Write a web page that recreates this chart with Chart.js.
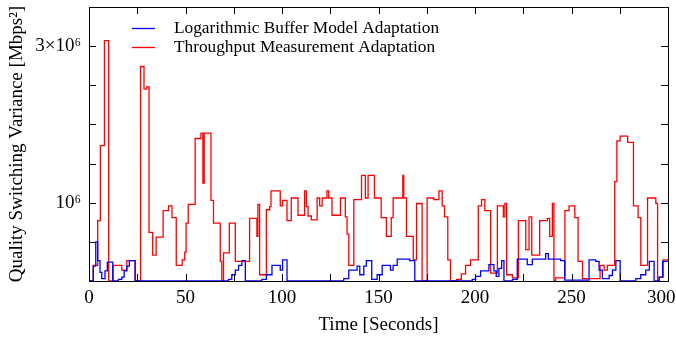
<!DOCTYPE html>
<html>
<head>
<meta charset="utf-8">
<script src="https://cdn.jsdelivr.net/npm/chart.js@4/dist/chart.umd.min.js"></script>
<style>
  html, body { margin: 0; padding: 0; background: #fff; }
  canvas { display: block; }
</style>
</head>
<body>
<canvas id="varianceChart" width="676" height="339"></canvas>
<script>
// values are in units of 10^6 Mbps^2, each holds until the next time
const UNIT = 1e6;

const redTimes = [0, 2.2, 4.5, 5.9, 8.0, 10.2, 12.5, 17.0, 19.6, 23.9, 26.7, 28.5, 29.9, 31.1, 33.0, 34.8,
    38.4, 41.2, 43.0, 45.2, 48.3, 49.6, 50.3, 51.4, 55.0, 58.0, 59.0, 59.7, 63.2, 64.5, 68.0, 68.8, 69.7,
    72.7, 75.8, 83.2, 87.0, 87.5, 88.4, 91.9, 93.6, 94.3, 99.1, 100.3, 102.6, 104.8, 108.3, 111.7, 112.6,
    113.5, 115.2, 118.2, 119.5, 120.8, 123.3, 124.2, 125.9, 130.3, 132.8, 133.7, 134.6, 137.2, 141.2, 143.2,
    144.6, 147.9, 151.4, 154.1, 156.6, 157.6, 162.6, 163.1, 164.5, 168.0, 169.7, 172.6, 175.2, 178.7, 181.3,
    183.0, 184.2, 185.9, 187.3, 190.5, 192.9, 195.1, 197.7, 201.7, 203.4, 205.1, 208.1, 211.6, 214.7, 215.5,
    216.4, 219.4, 222.5, 226.3, 228.0, 229.4, 233.5, 237.5, 238.7, 240.1, 240.9, 241.8, 246.6, 248.7, 251.7,
    253.4, 255.7, 264.8, 266.9, 268.6, 272.4, 273.5, 275.2, 279.1, 282.1, 284.5, 285.9, 289.4, 293.7, 294.6,
    295.5, 297.5, 300];
const redValues = [0, 0.20, 0.77, 1.73, 3.07, 0, 0.20, 0.14, 0.26, 0, 2.74, 2.45, 2.48, 0.62, 0.33, 0.56,
    0.90, 0.96, 0.81, 0.20, 0.27, 0.37, 0.74, 0.98, 1.82, 1.89, 1.25, 1.89, 1.03, 0.74, 0.25, 0, 0.36,
    0.74, 0.25, 0.80, 0.57, 0.98, 0.08, 0.91, 0.95, 1.15, 0.96, 1.03, 0.77, 1.06, 0.84, 1.15, 0.95,
    0.83, 0.78, 1.06, 0.96, 1.06, 1.15, 1.06, 0.84, 1.06, 0.82, 0.60, 0.20, 1.04, 1.35, 1.06,
    1.35, 1.06, 0.81, 0.57, 0.81, 1.06, 1.35, 1.06, 0.57, 0.27, 0.99, 0, 1.06, 1.04, 1.15,
    0.96, 0.82, 0.27, 0, 0.02, 0.09, 0.20, 0.27, 0.96, 1.04, 0.90, 0.10, 0.96, 0.82, 0.99,
    0.08, 0.04, 0.77, 0.40, 0.82, 0.33, 0.77, 0.80, 0.57, 0.99, 0, 0.04, 0.90, 0.96, 0.81,
    0.25, 0.03, 0.20, 0.14, 0.20, 1.27, 1.79, 1.85, 1.77, 0.96, 0.81, 0.20, 1.06, 0.99, 0,
    0.05, 0.27, 0.27];

const blueTimes = [0, 2.2, 3.5, 4.5, 5.7, 6.6, 8.3, 9.5, 12.3, 15.2, 17.0, 18.2, 19.6, 20.9, 23.9,
    72.3, 74.0, 75.8, 77.5, 79.2, 81.0, 89.6, 91.9, 94.8, 99.1, 100.3, 102.6,
    132.0, 134.6, 138.9, 140.3, 142.4, 143.7, 146.5, 149.3, 151.9, 156.2, 157.6, 159.7, 166.2, 168.8,
    198.6, 200.3, 202.9, 207.2, 209.8, 211.0, 212.4, 213.8, 215.0, 219.4, 221.9, 227.1, 229.7, 236.6,
    238.0, 244.4, 246.5, 259.1, 262.6, 264.3, 266.0, 269.5, 271.2, 273.0, 275.2, 283.3, 285.9, 288.5,
    290.3, 292.8, 295.4, 297.2, 300];
const blueValues = [0, 0.19, 0.50, 0.26, 0.11, 0.03, 0.13, 0.24, 0, 0.02, 0.05, 0.13, 0.19, 0.26, 0,
    0.02, 0.08, 0.14, 0.20, 0.26, 0, 0.02, 0.08, 0.20, 0.14, 0.27, 0,
    0.03, 0.14, 0.19, 0.08, 0.19, 0.26, 0.02, 0.08, 0.20, 0.14, 0.20, 0.28, 0.26, 0,
    0.02, 0.06, 0.13, 0.21, 0.13, 0.06, 0.16, 0.26, 0, 0.02, 0.28, 0.21, 0.28, 0.35,
    0.28, 0.26, 0.01, 0.27, 0.25, 0.14, 0.03, 0.07, 0.14, 0.26, 0, 0.03, 0.08, 0.14,
    0.25, 0, 0.05, 0.25, 0.25];

const seriesLabels = ["Logarithmic Buffer Model Adaptation", "Throughput Measurement Adaptation"];
const xTickLabels = { 0: "0", 50: "50", 100: "100", 150: "150", 200: "200", 250: "250", 300: "300\u2002\u2009" };
const yTickLabels = { 1000000: "10\u2076", 3000000: "3\u00d710\u2076" };

const FONT = "'Liberation Serif', 'Times New Roman', serif";

function toPoints(times, values) {
    return times.map((t, i) => ({ x: t, y: values[i] * UNIT }));
}

// frame with inward tick marks on all four sides, plus the legend inside the plot
const framePlugin = {
    id: "frame",
    afterDatasetsDraw(chart) {
        let ctx = chart.ctx;
        let area = chart.chartArea;
        let xs = chart.scales.x;
        let ys = chart.scales.y;
        ctx.save();
        ctx.strokeStyle = "#000";
        ctx.lineWidth = 1;
        ctx.beginPath();
        for (let v = 25; v < 300; v += 25) {
            let px = Math.round(xs.getPixelForValue(v)) + 0.5;
            ctx.moveTo(px, area.bottom); ctx.lineTo(px, area.bottom - 7);
            ctx.moveTo(px, area.top); ctx.lineTo(px, area.top + 7);
        }
        for (let v = 500000; v < 3500000; v += 500000) {
            let py = Math.round(ys.getPixelForValue(v)) + 0.5;
            ctx.moveTo(area.left, py); ctx.lineTo(area.left + 7, py);
            ctx.moveTo(area.right, py); ctx.lineTo(area.right - 7, py);
        }
        ctx.stroke();
        ctx.strokeRect(Math.round(area.left) + 0.5, Math.round(area.top) + 0.5,
            Math.round(area.right - area.left), Math.round(area.bottom - area.top));

        ctx.font = "17.3px " + FONT;
        ctx.textBaseline = "middle";
        ctx.fillStyle = "#000";
        chart.data.datasets.forEach((ds, i) => {
            let y = 28.5 + i * 19;
            ctx.strokeStyle = ds.borderColor;
            ctx.lineWidth = 1.3;
            ctx.beginPath();
            ctx.moveTo(132, y); ctx.lineTo(155, y);
            ctx.stroke();
            ctx.fillText(ds.label, 174, y);
        });
        ctx.restore();
    }
};

let ctx = document.getElementById("varianceChart").getContext("2d");

let varianceChart = new Chart(ctx, {
    type: "line",
    data: {
        datasets: [{
            label: seriesLabels[0],
            data: toPoints(blueTimes, blueValues),
            borderColor: "#0000ff",
            borderWidth: 1.3,
            stepped: true,
            pointRadius: 0,
            fill: false
        }, {
            label: seriesLabels[1],
            data: toPoints(redTimes, redValues),
            borderColor: "#ff0000",
            borderWidth: 1.3,
            stepped: true,
            pointRadius: 0,
            fill: false
        }]
    },
    options: {
        responsive: false,
        animation: false,
        layout: { padding: { top: 7, right: 8, left: 0, bottom: 0 } },
        plugins: {
            legend: { display: false },
            tooltip: { enabled: false }
        },
        scales: {
            x: {
                type: "linear",
                min: 0,
                max: 300,
                grid: { display: false, drawTicks: false },
                border: { display: false },
                ticks: {
                    stepSize: 50,
                    padding: 6,
                    maxRotation: 0,
                    color: "#000",
                    font: { family: FONT, size: 19 },
                    callback: value => xTickLabels[value] || ""
                },
                title: {
                    display: true,
                    text: "Time [Seconds]",
                    color: "#000",
                    font: { family: FONT, size: 19 },
                    padding: { top: 0, bottom: 3 }
                },
                afterFit: scale => {
                    scale.height = 58;
                    scale.paddingLeft = 0;
                    scale.paddingRight = 0;
                }
            },
            y: {
                min: 0,
                max: 3500000,
                grid: { display: false, drawTicks: false },
                border: { display: false },
                ticks: {
                    stepSize: 500000,
                    padding: 8,
                    color: "#000",
                    font: { family: FONT, size: 19 },
                    callback: value => yTickLabels[value] || ""
                },
                title: {
                    display: true,
                    text: "Quality Switching Variance [Mbps\u00b2]",
                    color: "#000",
                    font: { family: FONT, size: 19 },
                    padding: { top: 6, bottom: 0 }
                },
                afterFit: scale => {
                    scale.width = 89;
                    scale.paddingTop = 0;
                    scale.paddingBottom = 0;
                }
            }
        }
    },
    plugins: [framePlugin]
});
</script>
</body>
</html>
